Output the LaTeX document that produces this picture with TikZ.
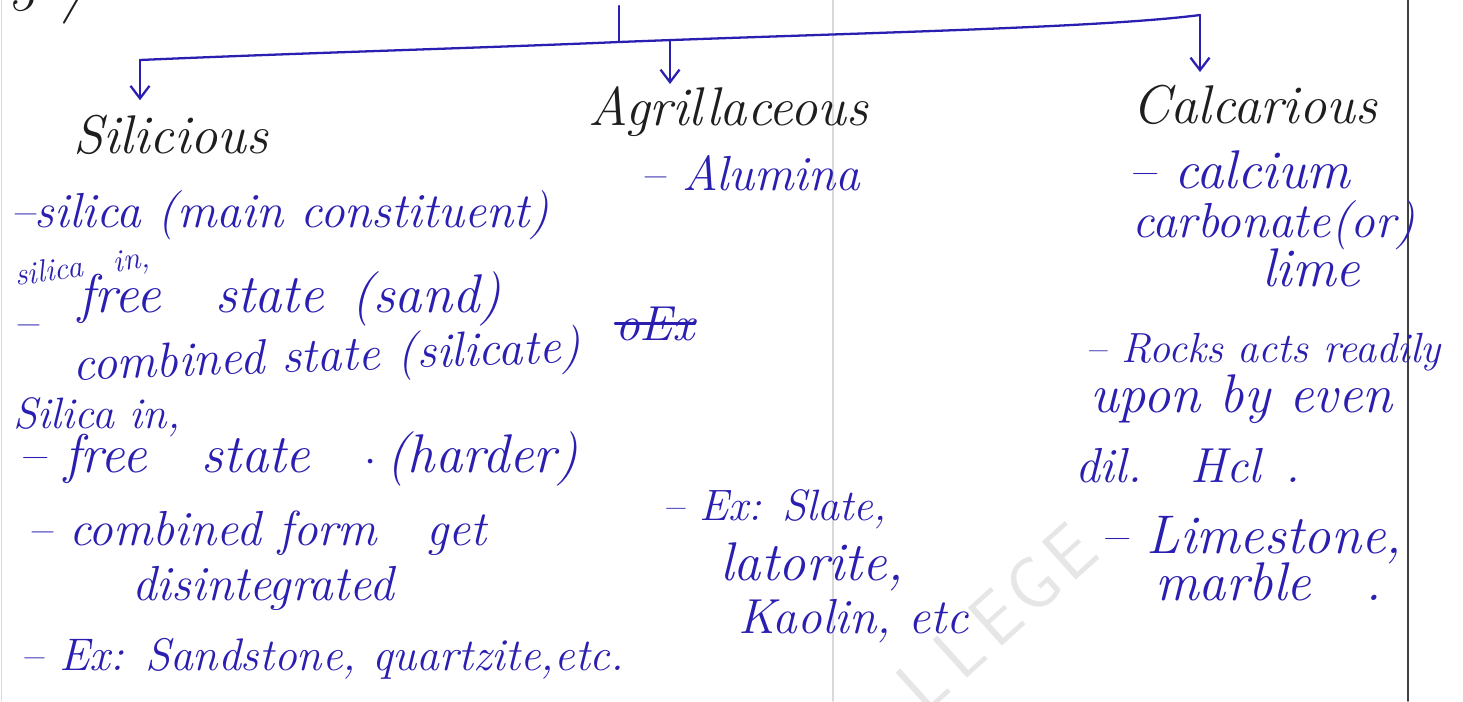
\documentclass[tikz,border=0pt]{standalone}
\usetikzlibrary{arrows.meta}
\definecolor{inkBlue}{HTML}{2A1FB0}
\definecolor{inkBlack}{HTML}{1E1E1E}
\definecolor{pageGray}{HTML}{D9D9D9}
\definecolor{wmGray}{HTML}{E6E6E6}
\tikzset{
    inkS/.style={text=inkBlue, font=\fontsize{25}{27}\selectfont\itshape, anchor=base west, inner sep=0pt},
    inkM/.style={inkS, font=\fontsize{28}{30}\selectfont\itshape},
    inkL/.style={inkS, font=\fontsize{31}{33}\selectfont\itshape},
    headtxt/.style={inkS, text=inkBlack, font=\fontsize{31}{33}\selectfont\itshape},
    wmark/.style={text=wmGray, font=\fontsize{42}{44}\selectfont\sffamily, rotate=42, inner sep=0pt},
    pen/.style={draw=inkBlue, line width=1.3pt},
    penarr/.style={pen, -{Straight Barb[length=2.5mm, width=3.8mm]}}
}
\begin{document}
\begin{tikzpicture}[x=0.02cm, y=-0.02cm, line cap=round, line join=round]
            \useasboundingbox (0,0) rectangle (1463,701);
            % page ruling and watermark
            \draw[pageGray, line width=0.8pt] (1.5,0) -- (1.5,701);
            \draw[pageGray, line width=1pt] (833,0) -- (833,701);
            \draw[inkBlack!85, line width=1pt] (1408,0) -- (1408,701);
            \foreach \ch [count=\i from 0] in {L,L,E,G,E}
                \node[wmark] (wm\i) at (922+37*\i, 684-33*\i) {\ch};

            \node[headtxt] (num) at (8,10) {3\enspace/};

            % headings
            \node[headtxt] (sil) at (73,153) {Silicious};
            \node[headtxt] (agr) at (588,125) {Agrillaceous};
            \node[headtxt] (cal) at (1132,123) {Calcarious};

            % bracket
            \coordinate (top) at (619,6);
            \coordinate (junc) at (619,42);
            \coordinate (lend) at (140,60);
            \coordinate (mjun) at (670,40);
            \coordinate (rend) at (1200,15);
            \draw[pen] (top) -- (junc);
            \draw[pen] (lend) .. controls (300,53) and (480,48) .. (junc) .. controls (850,33) and (1100,28) .. (rend);
            \draw[penarr, shorten >=8pt] (lend) -- (lend |- sil.north);
            \draw[penarr, shorten >=1pt] (mjun) -- (mjun |- agr.north);
            \draw[penarr, shorten >=7pt] (rend) -- (rend |- cal.north);

            % silicious
            \node[inkM] (s1) at (10,227) {--silica (main constituent)};
            \node[inkS, font=\fontsize{18}{20}\selectfont\itshape, rotate=8] (s2a) at (16,286) {silica\quad in,};
            \node[inkL] (s2b) at (78,312) {free\quad state\enspace(sand)};
            \node[inkM] (s2d) at (13,338) {--};
            \node[inkM, rotate=2] (s2c) at (73,380) {combined state (silicate)};
            \node[inkS] (s3a) at (13,428) {Silica in,};
            \node[inkL] (s3b) at (18,472) {-- free\quad state\quad$\cdot$\,(harder)};
            \node[inkM] (s4a) at (27,545) {-- combined form\quad get};
            \node[inkM] (s4b) at (132,600) {disintegrated};
            \node[inkS, font=\fontsize{26}{28}\selectfont\itshape] (s5) at (20,670) {-- Ex: Sandstone, quartzite,etc.};

            % agrillaceous
            \node[inkM] (a1) at (640,190) {-- Alumina};
            \node[inkM] (a2) at (615,340) {oEx};
            \draw[pen] (a2.west) -- (a2.east);
            \node[inkS] (a3) at (662,520) {-- Ex: Slate,};
            \node[inkL] (a4) at (720,580) {latorite,};
            \node[inkM] (a5) at (738,633) {Kaolin, etc};

            % calcarious
            \node[inkL] (c1) at (1128,188) {-- calcium};
            \node[inkM] (c2) at (1132,237) {carbonate(or)};
            \node[inkL] (c3) at (1262,286) {lime};
            \node[inkS, font=\fontsize{24}{26}\selectfont\itshape] (c4) at (1085,362) {-- Rocks acts readily};
            \node[inkL] (c5) at (1090,412) {upon by even};
            \node[inkM] (c6) at (1075,482) {dil.\quad Hcl\enspace.};
            \node[inkL] (c7) at (1100,553) {-- Limestone,};
            \node[inkL] (c8) at (1155,600) {marble\quad.};
        \end{tikzpicture}
\end{document}
